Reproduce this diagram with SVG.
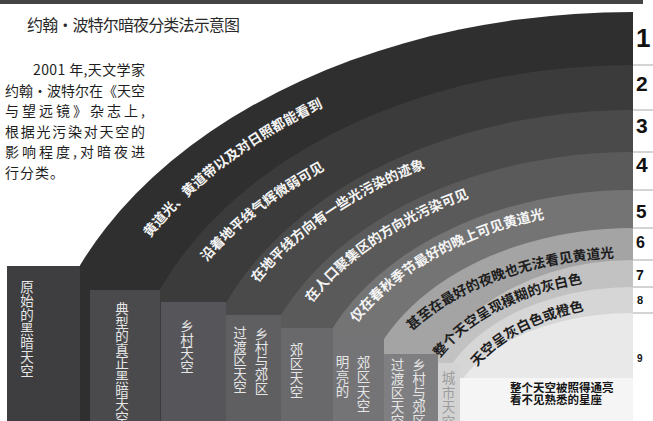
<svg xmlns="http://www.w3.org/2000/svg" width="653" height="421" viewBox="0 0 653 421">
<style>
.cjk{font-family:"Noto Sans CJK SC","Noto Sans",sans-serif}
.title{font-size:16px;fill:#2a2a2a}
.para{font-size:14px;fill:#1e1e1e}
.bl{font-size:13.7px;font-weight:700}
.lw{fill:#f4f4f4}
.ld{fill:#1e1e1e}
.bt{font-size:13.5px;fill:#e6e6e6;text-anchor:middle}
.ct{font-size:13.5px;fill:#9c9c9c;text-anchor:middle}
.num{font-family:"Liberation Sans",Arial,sans-serif;font-weight:700;fill:#111}
.sep{stroke:#a8a8a8;stroke-width:1}
.inner{font-size:11.5px;font-weight:700;fill:#151515}
</style>
<defs>
<path id="p1" d="M150,238 A551.4,379.3 0 0 1 633,41.7"/>
<path id="p2" d="M207,262 A489.4,323 0 0 1 633,98"/>
<path id="p3" d="M258,283 A426.5,289.7 0 0 1 633,131.3"/>
<path id="p4" d="M312,303 A364.2,249.7 0 0 1 633,171.3"/>
<path id="p5" d="M357,323 A311.7,211 0 0 1 633,210"/>
<path id="p6" d="M412,331 A264.6,163.6 0 0 1 633,257.4"/>
<path id="p7" d="M440,358 A217.7,141.8 0 0 1 633,279.2"/>
<path id="p8" d="M477,367 A176.8,114.7 0 0 1 633,306.3"/>
</defs>
<rect width="653" height="421" fill="#ffffff"/>
<rect x="0" y="0" width="643" height="4" fill="#444"/>
<g id="heading">
<text class="cjk title" x="27" y="31" textLength="213" lengthAdjust="spacing">约翰·波特尔暗夜分类法示意图</text>
</g>
<g id="intro" class="cjk para">
<text x="33" y="75" textLength="112" lengthAdjust="spacing">2001 年,天文学家</text>
<text x="5" y="95.5" textLength="140" lengthAdjust="spacing">约翰·波特尔在《天空</text>
<text x="5" y="116" textLength="140" lengthAdjust="spacing">与望远镜》杂志上,</text>
<text x="5" y="136.5" textLength="140" lengthAdjust="spacing">根据光污染对天空的</text>
<text x="5" y="157" textLength="140" lengthAdjust="spacing">影响程度,对暗夜进</text>
<text x="5" y="177.5" letter-spacing="1">行分类。</text>
</g>
<g id="fan">
<path id="band-1" d="M35,421 A598,409 0 0 1 633,12 L633,421 Z" fill="#2f2f2f"/>
<path id="band-2" d="M124,421 A509,356 0 0 1 633,65 L633,421 Z" fill="#3b3b3b"/>
<path id="band-3" d="M193,421 A440,311 0 0 1 633,110 L633,421 Z" fill="#4a4a4a"/>
<path id="band-4" d="M250,421 A383,269 0 0 1 633,152 L633,421 Z" fill="#5a5a5a"/>
<path id="band-5" d="M305,421 A328,231 0 0 1 633,190 L633,421 Z" fill="#747474"/>
<path id="band-6" d="M358,421 A275,193 0 0 1 633,228 L633,421 Z" fill="#a4a4a4"/>
<path id="band-7" d="M419,421 A214,161 0 0 1 633,260 L633,421 Z" fill="#c2c2c2"/>
<path id="band-8" d="M433,421 A200,134 0 0 1 633,287 L633,421 Z" fill="#d6d6d6"/>
<path id="band-9" d="M448,421 A185,108 0 0 1 633,313 L633,421 Z" fill="#e9e9e9"/>
</g>
<g id="bar-1">
<rect x="7" y="266" width="73" height="155" fill="#3e3e40"/>
<text class="cjk bt" x="27 27 27 27 27 27 27" y="292 306 320 334 348 362 376">原始的黑暗天空</text>
</g>
<g id="bar-2">
<rect x="90" y="290" width="70" height="131" fill="#4a4a4c"/>
<text class="cjk bt" x="122 122 122 122 122 122 122 122 122" y="314 327.6 341.2 354.8 368.4 382 395.6 409.2 422.8">典型的真正黑暗天空</text>
</g>
<g id="bar-3">
<rect x="161" y="302" width="65" height="119" fill="#56565a"/>
<text class="cjk bt" x="187 187 187 187" y="331 344.7 358.4 372.1">乡村天空</text>
</g>
<g id="bar-4">
<rect x="226" y="315" width="55" height="106" fill="#5f5f62"/>
<text class="cjk bt" x="240 240 240 240 240" y="338 351.5 365 378.5 392">过渡区天空</text>
<text class="cjk bt" x="261.5 261.5 261.5 261.5 261.5" y="339 352.75 366.5 380.25 394">乡村与郊区</text>
</g>
<g id="bar-5">
<rect x="281" y="328" width="52" height="93" fill="#69696c"/>
<text class="cjk bt" x="296.5 296.5 296.5 296.5" y="354.5 368.5 382.5 396.5">郊区天空</text>
</g>
<g id="bar-6">
<rect x="333" y="339" width="51" height="82" fill="#747476"/>
<text class="cjk bt" x="342.5 342.5 342.5" y="367 381.5 396">明亮的</text>
<text class="cjk bt" x="363.5 363.5 363.5 363.5" y="368 382.3 396.6 410.9">郊区天空</text>
</g>
<g id="bar-7">
<rect x="384" y="354" width="54" height="67" fill="#7f7f82"/>
<text class="cjk bt" x="397.5 397.5 397.5 397.5 397.5" y="370 384 398 412 426">过渡区天空</text>
<text class="cjk bt" x="419 419 419 419 419" y="370 384 398 412 426">乡村与郊区</text>
</g>
<g id="bar-8">
<rect x="438" y="363" width="22" height="58" fill="#d3d3d3"/>
<text class="cjk ct" x="448.5 448.5 448.5 448.5" y="383 397.5 412 426.5">城市天空</text>
</g>
<g id="bar-9">
<rect x="460" y="378" width="173" height="43" fill="#f5f5f5"/>
<text class="cjk inner" x="510" y="392">整个天空被照得通亮</text>
<text class="cjk inner" x="510" y="404">看不见熟悉的星座</text>
</g>
<g id="band-labels" class="cjk bl">
<text class="lw"><textPath href="#p1">黄道光、黄道带以及对日照都能看到</textPath></text>
<text class="lw"><textPath href="#p2">沿着地平线气辉微弱可见</textPath></text>
<text class="lw"><textPath href="#p3">在地平线方向有一些光污染的迹象</textPath></text>
<text class="lw"><textPath href="#p4">在人口聚集区的方向光污染可见</textPath></text>
<text class="lw"><textPath href="#p5">仅在春秋季节最好的晚上可见黄道光</textPath></text>
<text class="ld"><textPath href="#p6">甚至在最好的夜晚也无法看见黄道光</textPath></text>
<text class="ld"><textPath href="#p7">整个天空呈现模糊的灰白色</textPath></text>
<text class="ld"><textPath href="#p8">天空呈灰白色或橙色</textPath></text>
</g>
<g id="scale">
<line class="sep" x1="633" y1="65" x2="653" y2="65"/>
<line class="sep" x1="633" y1="110" x2="653" y2="110"/>
<line class="sep" x1="633" y1="152" x2="653" y2="152"/>
<line class="sep" x1="633" y1="190" x2="653" y2="190"/>
<line class="sep" x1="633" y1="228" x2="653" y2="228"/>
<line class="sep" x1="633" y1="260" x2="653" y2="260"/>
<line class="sep" x1="633" y1="287" x2="653" y2="287"/>
<line class="sep" x1="633" y1="313" x2="653" y2="313"/>
<text class="num" x="636" y="47" font-size="26">1</text>
<text class="num" x="636" y="91" font-size="21">2</text>
<text class="num" x="636" y="133" font-size="21">3</text>
<text class="num" x="636" y="172" font-size="21">4</text>
<text class="num" x="636" y="218" font-size="19">5</text>
<text class="num" x="636" y="248" font-size="16">6</text>
<text class="num" x="636" y="280" font-size="14">7</text>
<text class="num" x="637" y="304" font-size="11">8</text>
<text class="num" x="637" y="362" font-size="10">9</text>
</g>
</svg>
